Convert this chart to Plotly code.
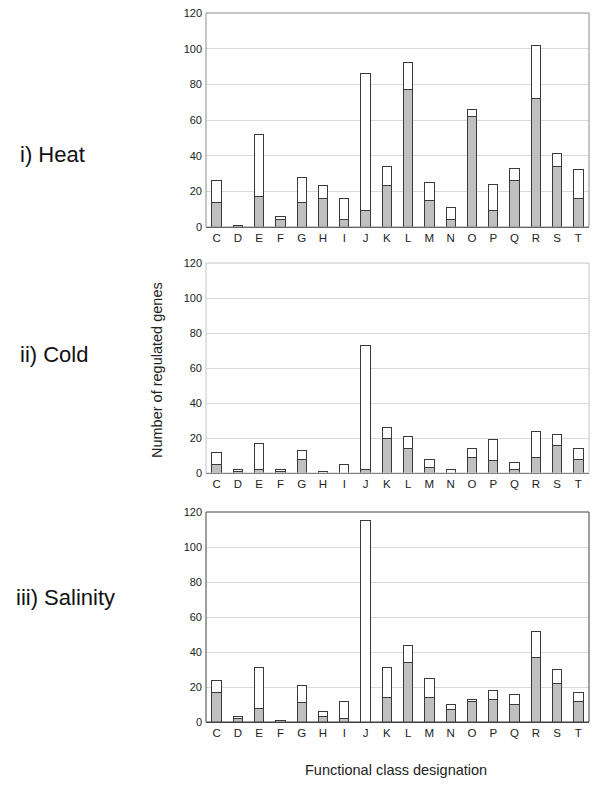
import plotly.graph_objects as go

categories = ["C","D","E","F","G","H","I","J","K","L","M","N","O","P","Q","R","S","T"]

heat_total = [26, 1, 52, 6, 28, 23, 16, 86, 34, 92, 25, 11, 66, 24, 33, 102, 41, 32]
heat_gray  = [14, 1, 17, 4, 14, 16, 4, 9, 23, 77, 15, 4, 62, 9, 26, 72, 34, 16]

cold_total = [12, 2, 17, 2, 13, 1, 5, 73, 26, 21, 8, 2, 14, 19, 6, 24, 22, 14]
cold_gray  = [5, 1, 2, 1, 8, 0, 0, 2, 20, 14, 3, 0, 9, 7, 2, 9, 16, 8]

sal_total = [24, 3, 31, 1, 21, 6, 12, 115, 31, 44, 25, 10, 13, 18, 16, 52, 30, 17]
sal_gray  = [17, 2, 8, 0, 11, 3, 2, 0, 14, 34, 14, 7, 12, 13, 10, 37, 22, 12]

panel_labels = ["i) Heat", "ii) Cold", "iii) Salinity"]
y_title = "Number of regulated genes"
x_title = "Functional class designation"
y_ticks = [0, 20, 40, 60, 80, 100, 120]

# page has an 8px body margin; figure is sized to fill the rest of the window
OFF = 8
W, H = 600 - OFF, 790 - OFF
FONT = "Liberation Sans, Arial, sans-serif"

def px(v):
    return (v - OFF) / W

def py(v):
    return 1 - (v - OFF) / H

panels = [
    (heat_total, heat_gray, (13, 227), "#8c8c8c"),
    (cold_total, cold_gray, (263, 473), "#c4c4c4"),
    (sal_total, sal_gray, (512, 722), "#404040"),
]

fig = go.Figure()
layout = dict(
    width=W, height=H, margin=dict(l=0, r=0, t=0, b=0, autoexpand=False),
    paper_bgcolor="white", plot_bgcolor="white",
    barmode="stack", bargap=0.56, showlegend=False,
    font=dict(family=FONT, color="#222"),
)
shapes = []
x0, x1 = px(206), px(589)

for i, (tot, gray, (top, bot), border) in enumerate(panels):
    xa = "x" if i == 0 else f"x{i+1}"
    ya = "y" if i == 0 else f"y{i+1}"
    white = [t - g for t, g in zip(tot, gray)]
    fig.add_trace(go.Bar(x=categories, y=gray, xaxis=xa, yaxis=ya,
                         marker=dict(color="#c0c0c0", line=dict(color="#3a3a3a", width=1))))
    fig.add_trace(go.Bar(x=categories, y=white, xaxis=xa, yaxis=ya,
                         marker=dict(color="white", line=dict(color="#3a3a3a", width=1))))
    xkey = "xaxis" if i == 0 else f"xaxis{i+1}"
    ykey = "yaxis" if i == 0 else f"yaxis{i+1}"
    y0, y1 = py(bot), py(top)
    layout[xkey] = dict(domain=[x0, x1], anchor=ya, automargin=False,
                        showline=True, linecolor="#404040", linewidth=1,
                        ticks="", tickfont=dict(size=11.5, family=FONT, color="#222"),
                        showgrid=False)
    layout[ykey] = dict(domain=[y0, y1], anchor=xa, automargin=False,
                        range=[0, 120], tickvals=y_ticks,
                        showline=False, ticklabeloverflow="allow",
                        showgrid=True, gridcolor="#d9d9d9", gridwidth=1,
                        zeroline=False, ticks="", ticklabelstandoff=3,
                        tickfont=dict(size=11, family=FONT, color="#222"))
    shapes.append(dict(type="rect", xref="paper", yref="paper", x0=x0, x1=x1, y0=y0, y1=y1,
                       line=dict(color=border, width=1), fillcolor="rgba(0,0,0,0)", layer="above"))

layout["shapes"] = shapes
fig.update_layout(**layout)

label_pos = [(18, 155), (18, 355), (14, 597)]
for txt, (lx, ly) in zip(panel_labels, label_pos):
    fig.add_annotation(text=txt, x=px(lx), y=py(ly), xref="paper", yref="paper",
                       xanchor="left", yanchor="middle", showarrow=False,
                       font=dict(size=22, family=FONT, color="#111"))

fig.add_annotation(text=y_title, x=px(157), y=py(370), xref="paper", yref="paper",
                   textangle=-90, xanchor="center", yanchor="middle", showarrow=False,
                   font=dict(size=14.5, family=FONT, color="#222"))
fig.add_annotation(text=x_title, x=px(396), y=py(770), xref="paper", yref="paper",
                   xanchor="center", yanchor="middle", showarrow=False,
                   font=dict(size=14.5, family=FONT, color="#222"))

fig.write_html("out.html")
